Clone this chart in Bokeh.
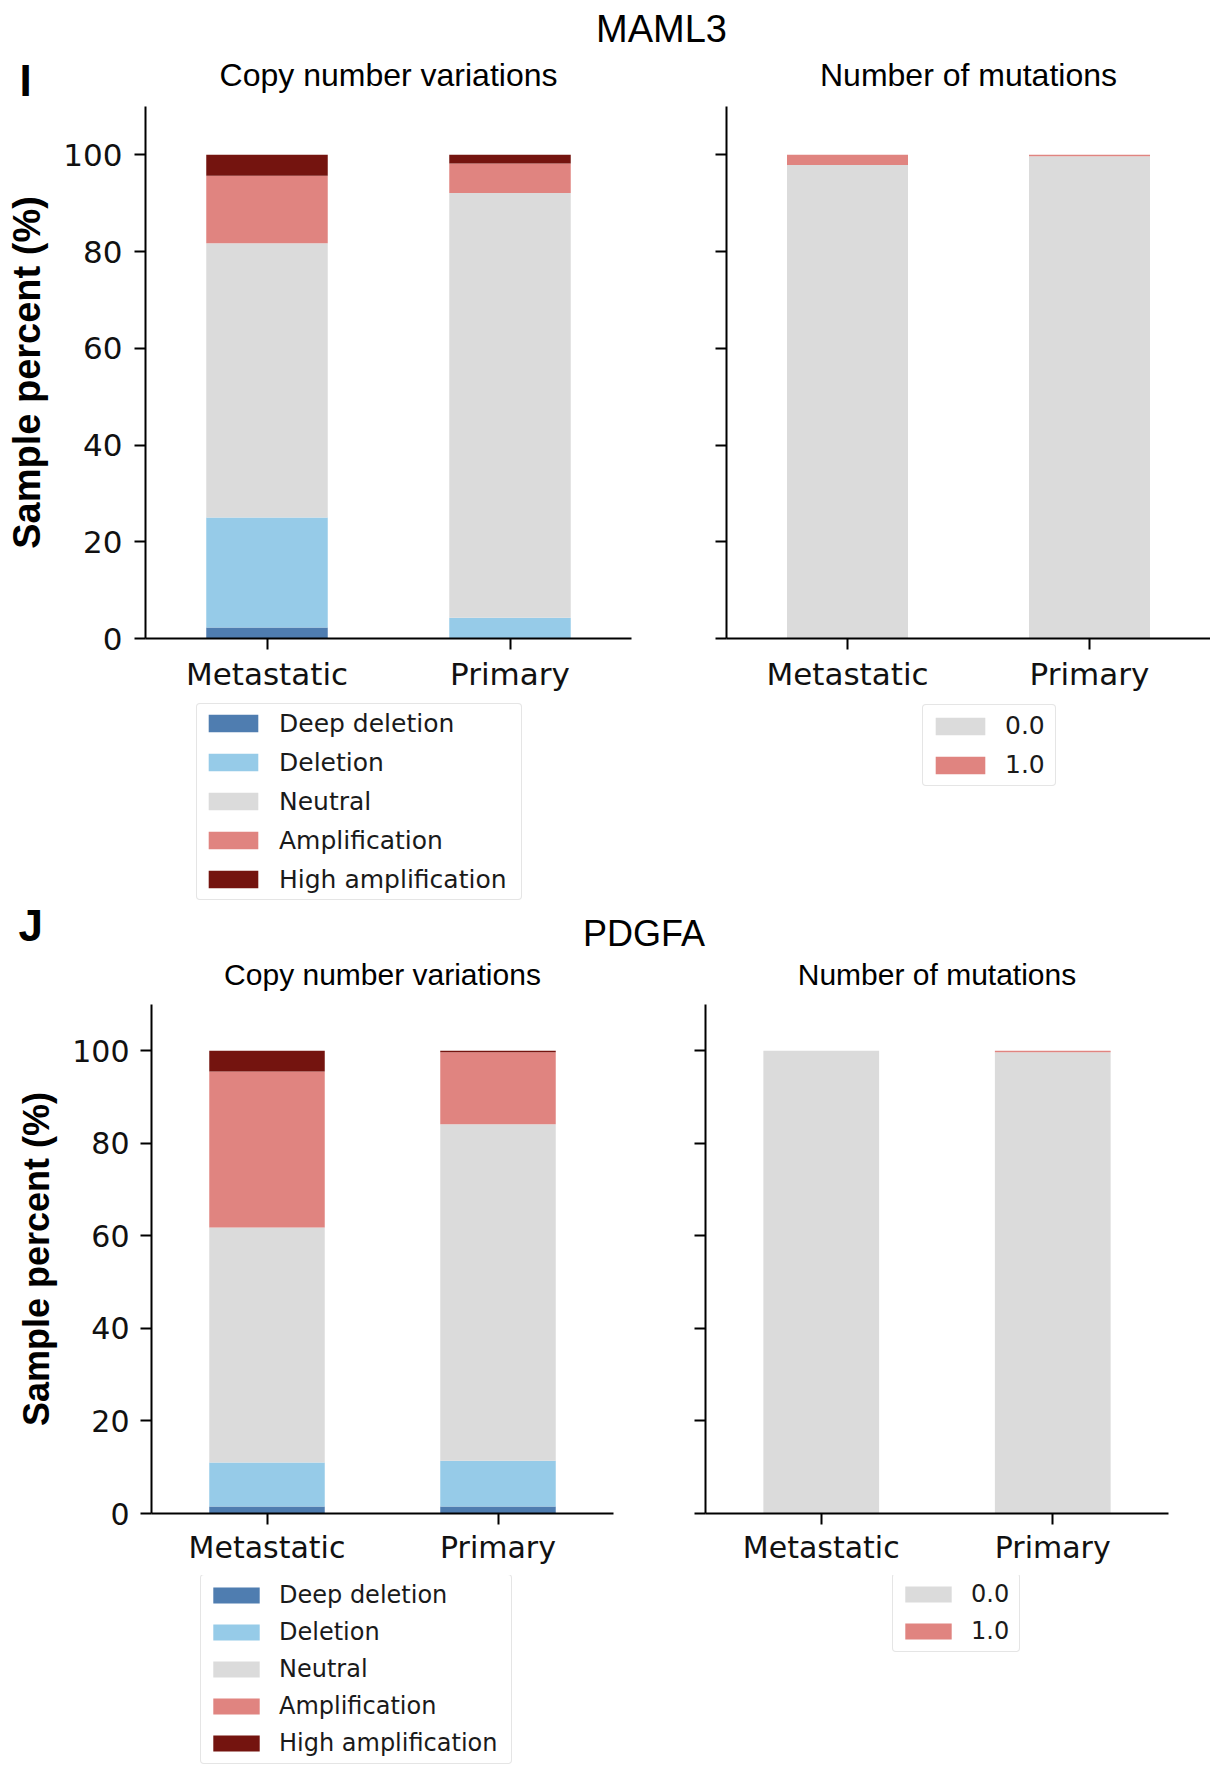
from bokeh.plotting import figure
from bokeh.models import (ColumnDataSource, FactorRange, Range1d, FixedTicker, Legend,
                          LegendItem, Label, CustomJSTickFormatter)
from bokeh.layouts import column, row
from bokeh.embed import file_html
from bokeh.resources import INLINE

# ---------------- data ----------------
groups = ["Metastatic", "Primary"]
cnv_labels = ["Deep deletion", "Deletion", "Neutral", "Amplification", "High amplification"]
cnv_keys = ["deep_deletion", "deletion", "neutral", "amplification", "high_amplification"]
cnv_colors = ["#4f7db0", "#96cbe8", "#dbdbdb", "#e08480", "#74140f"]
mut_labels = ["0.0", "1.0"]
mut_keys = ["mut_0", "mut_1"]
mut_colors = ["#dbdbdb", "#e08480"]
y_ticks = [0, 20, 40, 60, 80, 100]

# MAML3, percent of samples per group
maml3_deep_deletion = [2.3, 0.0]
maml3_deletion = [22.7, 4.3]
maml3_neutral = [56.7, 87.8]
maml3_amplification = [14.0, 6.1]
maml3_high_amplification = [4.3, 1.8]
maml3_mut_0 = [97.9, 99.7]
maml3_mut_1 = [2.1, 0.3]

# PDGFA, percent of samples per group
pdgfa_deep_deletion = [1.5, 1.5]
pdgfa_deletion = [9.5, 9.9]
pdgfa_neutral = [50.8, 72.7]
pdgfa_amplification = [33.7, 15.6]
pdgfa_high_amplification = [4.5, 0.3]
pdgfa_mut_0 = [100.0, 99.7]
pdgfa_mut_1 = [0.0, 0.3]

TICK_FONT = "DejaVu Sans"
HEAD_FONT = "Liberation Sans"


def header(width, height, texts):
    """Strip of heading texts (gene name, panel letter, subplot titles)."""
    p = figure(width=width, height=height, x_range=Range1d(0, width), y_range=Range1d(0, height),
               x_axis_type=None, y_axis_type=None, output_backend="svg", toolbar_location=None,
               min_border=0, title=None)
    p.outline_line_color = None
    p.grid.visible = False
    for txt, x, y, size, style, align in texts:
        p.add_layout(Label(x=x, y=y, x_units="screen", y_units="screen", text=txt,
                           text_font=HEAD_FONT, text_font_size=f"{size}px",
                           text_font_style=style, text_align=align, text_baseline="middle",
                           text_color="black"))
    return p


def make_source(keys, values):
    data = {"group": groups}
    for k, v in zip(keys, values):
        data[k] = v
    return ColumnDataSource(data)


def bars(width, height, borders, src, keys, colors, tick_px, xstand,
         ylabel=None, ylabel_px=None, ystand=12):
    left, right, top, bottom = borders
    p = figure(width=width, height=height, x_range=FactorRange(*groups), y_range=Range1d(0, 110),
               output_backend="svg", toolbar_location=None, title=None,
               min_border_left=left, min_border_right=right,
               min_border_top=top, min_border_bottom=bottom)
    p.outline_line_color = None
    p.grid.visible = False
    p.background_fill_color = "white"
    p.border_fill_color = "white"
    p.vbar_stack(keys, x="group", width=0.5, fill_color=colors, line_color=None, source=src)

    for ax in (p.xaxis[0], p.yaxis[0]):
        ax.axis_line_color = "black"
        ax.axis_line_width = 2
        ax.major_tick_line_color = "black"
        ax.major_tick_line_width = 2
        ax.major_tick_in = 0
        ax.major_tick_out = 11
        ax.minor_tick_line_color = None
        ax.major_label_text_font = TICK_FONT
        ax.major_label_text_font_size = f"{tick_px}px"
        ax.major_label_text_color = "#111111"
    p.xaxis.major_label_standoff = xstand
    p.yaxis.ticker = FixedTicker(ticks=y_ticks)
    if ylabel:
        p.yaxis.major_label_standoff = ystand
        p.yaxis.axis_label = ylabel
        p.yaxis.axis_label_text_font = HEAD_FONT
        p.yaxis.axis_label_text_font_style = "bold"
        p.yaxis.axis_label_text_font_size = f"{ylabel_px}px"
        p.yaxis.axis_label_text_color = "black"
        p.yaxis.axis_label_standoff = 12
    else:
        p.yaxis.formatter = CustomJSTickFormatter(code="return ''")
        p.yaxis.major_label_standoff = 0
    return p


def key_box(width, height, left, right, src, keys, labels, colors, legend_px, cfg):
    """Legend for one bar panel, set directly under it."""
    lx, ly, pad, spacing, gw, gh, lh, stand, lw = cfg
    p = figure(width=width, height=height, x_range=FactorRange(*groups), y_range=Range1d(0, 110),
               x_axis_type=None, y_axis_type=None, output_backend="svg", toolbar_location=None,
               title=None, min_border_left=left, min_border_right=right,
               min_border_top=0, min_border_bottom=0)
    p.outline_line_color = None
    p.grid.visible = False
    rends = p.vbar_stack(keys, x="group", width=0.5, fill_color=colors, line_color=None,
                         source=src, visible=False)
    items = [LegendItem(label=lab, renderers=[r]) for lab, r in zip(labels, rends)]
    leg = Legend(items=items, location=(lx, ly), padding=pad, spacing=spacing, margin=0,
                 glyph_width=gw, glyph_height=gh, label_height=lh, label_standoff=stand,
                 label_width=lw, label_text_font=TICK_FONT, label_text_font_size=f"{legend_px}px",
                 label_text_color="#1a1a1a", border_line_color="#cccccc", border_line_width=1.5,
                 border_radius=4, background_fill_color="white", background_fill_alpha=1.0)
    p.add_layout(leg, "center")
    return p


# ---------------- MAML3 ----------------
head1 = header(1210, 105, [
    ("MAML3", 661, 76.5, 38, "normal", "center"),
    ("I", 19, 25.2, 44, "bold", "left"),
    ("Copy number variations", 388, 30.2, 32, "normal", "center"),
    ("Number of mutations", 968, 30.2, 32, "normal", "center"),
])

src_maml3_cnv = make_source(cnv_keys, [maml3_deep_deletion, maml3_deletion, maml3_neutral,
                                       maml3_amplification, maml3_high_amplification])
src_maml3_mut = make_source(mut_keys, [maml3_mut_0, maml3_mut_1])

p_maml3_cnv = bars(680, 595, (145, 49, 1, 62), src_maml3_cnv, cnv_keys, cnv_colors, 31, 6,
                   ylabel="Sample percent (%)", ylabel_px=38, ystand=12)
k_maml3_cnv = key_box(680, 200, 145, 49, src_maml3_cnv, cnv_keys, cnv_labels, cnv_colors, 25,
                      (51, 0.5, 5, 10, 62, 22, 29, 15, 237))
p_maml3_mut = bars(530, 595, (46, 0, 1, 62), src_maml3_mut, mut_keys, mut_colors, 31, 6)
k_maml3_mut = key_box(530, 200, 46, 0, src_maml3_mut, mut_keys, mut_labels, mut_colors, 25,
                      (196, 114, 6, 10, 62, 22, 29, 14, 44))

# ---------------- PDGFA ----------------
head2 = header(1210, 100, [
    ("J", 18, 75.2, 44, "bold", "left"),
    ("PDGFA", 643.5, 67.5, 36, "normal", "center"),
    ("Copy number variations", 382, 26.4, 30, "normal", "center"),
    ("Number of mutations", 936.5, 26.4, 30, "normal", "center"),
])

src_pdgfa_cnv = make_source(cnv_keys, [pdgfa_deep_deletion, pdgfa_deletion, pdgfa_neutral,
                                       pdgfa_amplification, pdgfa_high_amplification])
src_pdgfa_mut = make_source(mut_keys, [pdgfa_mut_0, pdgfa_mut_1])

p_pdgfa_cnv = bars(660, 575, (151, 47, 4, 62), src_pdgfa_cnv, cnv_keys, cnv_colors, 30, 5,
                   ylabel="Sample percent (%)", ylabel_px=36, ystand=11)
k_pdgfa_cnv = key_box(660, 190, 151, 47, src_pdgfa_cnv, cnv_keys, cnv_labels, cnv_colors, 24,
                      (49, 1, 6, 9, 58, 20, 28, 14, 226))
p_pdgfa_mut = bars(550, 575, (45, 42, 4, 62), src_pdgfa_mut, mut_keys, mut_colors, 30, 5)
k_pdgfa_mut = key_box(550, 190, 45, 42, src_pdgfa_mut, mut_keys, mut_labels, mut_colors, 24,
                      (187, 113, 6, 9, 58, 20, 28, 14, 42))

layout = column(
    head1,
    row(column(p_maml3_cnv, k_maml3_cnv), column(p_maml3_mut, k_maml3_mut)),
    head2,
    row(column(p_pdgfa_cnv, k_pdgfa_cnv), column(p_pdgfa_mut, k_pdgfa_mut)),
)

with open("out.html", "w") as f:
    f.write(file_html(layout, INLINE, title="MAML3 and PDGFA"))
